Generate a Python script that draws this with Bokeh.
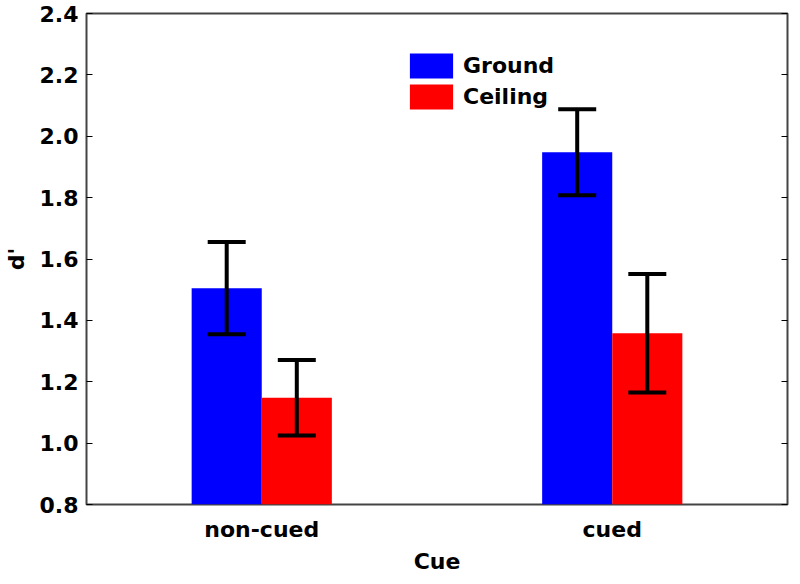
from bokeh.plotting import figure
from bokeh.models import (ColumnDataSource, FactorRange, Whisker, TeeHead, LinearAxis,
                          Legend, LegendItem, Range1d, FixedTicker, CustomJSTickFormatter)
from bokeh.transform import dodge
from bokeh.embed import file_html
from bokeh.resources import INLINE

cues = ["non-cued", "cued"]
ground = [1.505, 1.948]
ground_err = [0.150, 0.140]
ceiling = [1.148, 1.358]
ceiling_err = [0.123, 0.193]
yticks = [0.8, 1.0, 1.2, 1.4, 1.6, 1.8, 2.0, 2.2, 2.4]

src = ColumnDataSource(dict(
    cue=cues,
    ground=ground,
    ceiling=ceiling,
    g_lo=[v - e for v, e in zip(ground, ground_err)],
    g_hi=[v + e for v, e in zip(ground, ground_err)],
    c_lo=[v - e for v, e in zip(ceiling, ceiling_err)],
    c_hi=[v + e for v, e in zip(ceiling, ceiling_err)],
))

FONT = "DejaVu Sans"
FS = "22px"

p = figure(x_range=FactorRange(*cues), y_range=Range1d(0.8, 2.4),
           width=792, height=576, output_backend="svg", toolbar_location=None,
           min_border_left=10, min_border_right=5, min_border_top=13, min_border_bottom=10)

r1 = p.vbar(x=dodge("cue", -0.1, range=p.x_range), top="ground", bottom=0.8, width=0.2,
            source=src, fill_color="#0000ff", line_color=None)
r2 = p.vbar(x=dodge("cue", 0.1, range=p.x_range), top="ceiling", bottom=0.8, width=0.2,
            source=src, fill_color="#ff0000", line_color=None)

for off, lo, hi in [(-0.1, "g_lo", "g_hi"), (0.1, "c_lo", "c_hi")]:
    w = Whisker(base=dodge("cue", off, range=p.x_range), lower=lo, upper=hi, source=src,
                line_color="black", line_width=4, level="annotation",
                upper_head=TeeHead(size=38, line_width=4, line_color="black"),
                lower_head=TeeHead(size=38, line_width=4, line_color="black"))
    p.add_layout(w)

p.grid.visible = False
p.outline_line_color = "#444444"
p.outline_line_width = 2

p.yaxis.ticker = FixedTicker(ticks=yticks)
p.yaxis.formatter = CustomJSTickFormatter(code="return tick.toFixed(1);")
p.yaxis.major_tick_in = 6
p.yaxis.major_tick_out = 0
p.yaxis.minor_tick_line_color = None
p.yaxis.axis_line_color = None
p.yaxis.major_label_text_font = FONT
p.yaxis.major_label_text_font_style = "bold"
p.yaxis.major_label_text_font_size = FS
p.yaxis.major_label_text_color = "black"
p.yaxis.major_label_standoff = 8
p.yaxis.axis_label = "d'"
p.yaxis.axis_label_text_font = FONT
p.yaxis.axis_label_text_font_style = "bold"
p.yaxis.axis_label_text_font_size = FS
p.yaxis.axis_label_text_color = "black"
p.yaxis.axis_label_standoff = 8

ra = LinearAxis(ticker=FixedTicker(ticks=yticks), major_tick_in=6, major_tick_out=0,
                minor_tick_line_color=None, axis_line_color=None,
                formatter=CustomJSTickFormatter(code="return '';"),
                major_label_standoff=0, axis_label_standoff=0)
p.add_layout(ra, "right")

p.xaxis.major_tick_line_color = None
p.xaxis.axis_line_color = None
p.xaxis.major_label_text_font = FONT
p.xaxis.major_label_text_font_style = "bold"
p.xaxis.major_label_text_font_size = FS
p.xaxis.major_label_text_color = "black"
p.xaxis.major_label_standoff = 6
p.xaxis.axis_label = "Cue"
p.xaxis.axis_label_text_font = FONT
p.xaxis.axis_label_text_font_style = "bold"
p.xaxis.axis_label_text_font_size = FS
p.xaxis.axis_label_text_color = "black"
p.xaxis.axis_label_standoff = 4

legend = Legend(items=[LegendItem(label="Ground", renderers=[r1]),
                       LegendItem(label="Ceiling", renderers=[r2])],
                location=(318, 392), orientation="vertical",
                glyph_width=54, glyph_height=31, label_height=31, spacing=0,
                label_standoff=5, padding=0, margin=0,
                border_line_color=None, background_fill_alpha=0,
                label_text_font=FONT, label_text_font_style="bold",
                label_text_font_size=FS, label_text_color="black")
p.add_layout(legend)

open("out.html", "w").write(file_html(p, INLINE))
